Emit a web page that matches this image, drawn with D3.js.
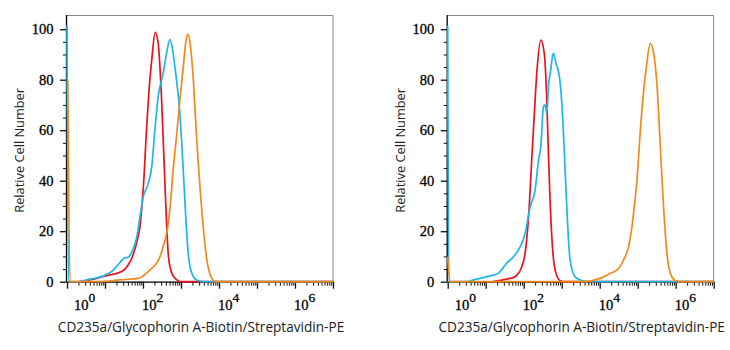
<!DOCTYPE html>
<html>
<head>
<meta charset="utf-8">
<script src="https://cdn.jsdelivr.net/npm/d3@7"></script>
<style>
  html, body { margin: 0; padding: 0; background: #fff; }
  svg { display: block; }
</style>
</head>
<body>
<div id="chart"></div>
<script>
// histogram traces, [log10 intensity, relative cell number]
const leftRed = [
  [0.34, 0], [0.78, 1.3], [1.13, 2.7], [1.44, 4], [1.61, 6.6], [1.74, 10.6], [1.85, 16.5],
  [1.92, 21.8], [1.97, 29.7], [2.01, 37.6], [2.10, 62], [2.18, 79.9], [2.23, 87.8],
  [2.32, 98.8], [2.40, 94.4], [2.49, 72], [2.58, 37.6], [2.67, 9.9], [2.76, 3.3],
  [2.89, 0.7], [3.0, 0], [7, 0]
];
const leftCyan = [
  [0, 101.5], [0.04, 0], [0.26, 0], [0.61, 1], [0.96, 2.3], [1.22, 4.6], [1.39, 7.5],
  [1.50, 9.3], [1.61, 9.7], [1.73, 12.6], [1.83, 17.2], [1.92, 25.7], [2.01, 33.7],
  [2.14, 39], [2.23, 45.5], [2.32, 61.4], [2.40, 73.3], [2.53, 82.5], [2.62, 90.5],
  [2.71, 96], [2.78, 91.8], [2.84, 85], [2.97, 66.7], [3.06, 44], [3.13, 24.4],
  [3.19, 11.2], [3.28, 3.5], [3.41, 0.7], [3.63, 0], [7, 0]
];
const leftOrange = [
  [0.02, 80], [0.08, 0], [0.87, 0], [1.39, 0.7], [1.88, 1.3], [2.10, 3.5], [2.18, 4.6],
  [2.32, 6.6], [2.45, 10], [2.53, 14], [2.62, 19], [2.71, 29], [2.80, 45.5], [2.89, 58.8],
  [2.97, 72], [3.06, 85], [3.13, 95.5], [3.18, 98], [3.24, 94.4], [3.33, 78.6],
  [3.41, 57.4], [3.54, 29.7], [3.68, 8.6], [3.81, 1.3], [3.92, 0], [7, 0]
];

const rightRed = [
  [1.19, 0], [1.55, 1], [1.77, 2], [1.95, 5.9], [2.06, 13.9], [2.15, 31], [2.21, 48.2],
  [2.27, 64], [2.35, 83.8], [2.45, 95.7], [2.54, 90.5], [2.61, 70.7], [2.65, 50.9],
  [2.70, 29.7], [2.77, 11.2], [2.85, 3.3], [2.96, 0.4], [3.09, 0], [7, 0]
];
const rightCyan = [
  [0, 101.5], [0.03, 0], [0.46, 0], [0.76, 1], [1.03, 2], [1.33, 3.3], [1.55, 7.3],
  [1.73, 9.9], [1.91, 13.9], [2.04, 19.2], [2.17, 29.7], [2.30, 36.3], [2.39, 48.2],
  [2.45, 53.5], [2.52, 69.3], [2.56, 70], [2.61, 66.7], [2.65, 77.2], [2.71, 83.8],
  [2.78, 90.5], [2.85, 86.5], [2.94, 81.2], [3.03, 64], [3.09, 44.2], [3.15, 24.4],
  [3.22, 8.6], [3.35, 2], [3.49, 0.7], [3.67, 0], [7, 0]
];
const rightOrange = [
  [0, 10], [0.06, 0], [3.57, 0], [4.01, 1.3], [4.28, 3.3], [4.50, 5.3], [4.63, 8.6],
  [4.76, 13.9], [4.85, 21.8], [4.91, 29.7], [4.98, 40], [5.07, 60], [5.15, 74.6],
  [5.24, 86.5], [5.33, 94.4], [5.42, 90.5], [5.51, 77.2], [5.59, 55], [5.68, 29.7],
  [5.77, 11.2], [5.86, 3.3], [5.99, 0.5], [6.12, 0], [7, 0]
];

const yMajor = [0, 20, 40, 60, 80, 100];
const xLabelPowers = [0, 2, 4, 6];
const xTitle = 'CD235a/Glycophorin A-Biotin/Streptavidin-PE';
const yTitle = 'Relative Cell Number';

const colors = { red: '#e8141c', cyan: '#1eb6e4', orange: '#f2891c' };
const serif = "'Liberation Serif', serif";
const sans = "'Open Sans', 'Noto Sans', sans-serif";

const svg = d3.select('#chart').append('svg')
  .attr('width', 730).attr('height', 350);

function drawPanel(left, red, cyan, orange) {
  const top = 15, W = 266, H = 266.7;
  const g = svg.append('g').attr('transform', `translate(${left},${top})`);

  const x = d3.scaleLog().domain([1, 1e7]).range([0, W]);
  const y = d3.scaleLinear().domain([0, 105.63]).range([H, 0]);

  // frame top / right
  g.append('path')
    .attr('d', `M0,0.5H${W}V${H}`)
    .attr('fill', 'none').attr('stroke', '#888').attr('stroke-width', 1);

  // minor ticks
  const xMinor = [];
  for (let p = 0; p < 7; p++) for (let m = 2; m <= 9; m++) xMinor.push(m * Math.pow(10, p));
  const xMaj = d3.range(0, 8).map(p => Math.pow(10, p));

  g.append('g').attr('transform', `translate(0,${H})`)
    .call(d3.axisBottom(x).tickValues(xMinor).tickSize(4).tickFormat(''))
    .call(a => a.select('.domain').remove())
    .selectAll('line').attr('stroke', '#111');
  g.append('g').attr('transform', `translate(0,${H})`)
    .call(d3.axisBottom(x).tickValues(xMaj).tickSize(7).tickSizeOuter(0).tickFormat(''))
    .call(a => a.select('.domain').attr('stroke', '#000').attr('stroke-width', 1.3))
    .selectAll('line').attr('stroke', '#111').attr('stroke-width', 1.3);

  const yMinor = d3.range(5, 105, 5).filter(v => v % 20 !== 0);
  g.append('g')
    .call(d3.axisLeft(y).tickValues(yMinor).tickSize(4).tickFormat(''))
    .call(a => a.select('.domain').remove())
    .selectAll('line').attr('stroke', '#111');
  g.append('g')
    .call(d3.axisLeft(y).tickValues(yMajor).tickSize(7).tickSizeOuter(0).tickPadding(6.5))
    .attr('font-family', null)
    .attr('font-size', null)
    .call(a => a.select('.domain').attr('d', `M-0.5,0V${H}`).attr('stroke', '#000').attr('stroke-width', 1.3))
    .call(a => a.selectAll('line').attr('stroke', '#111').attr('stroke-width', 1.3))
    .selectAll('text')
    .attr('font-family', serif)
    .attr('font-size', 14.5)
    .attr('fill', '#000')
    .attr('stroke', '#000')
    .attr('stroke-width', 0.3);

  // x tick labels as powers of ten
  xLabelPowers.forEach(p => {
    const t = g.append('text')
      .attr('x', x(Math.pow(10, p)) + (p === 0 ? 7 : -1))
      .attr('y', H + 28.5)
      .attr('font-family', serif)
      .attr('font-size', 14.5)
      .attr('fill', '#000')
      .attr('stroke', '#000')
      .attr('stroke-width', 0.3);
    t.append('tspan').text('10');
    t.append('tspan').attr('dy', -8.5).attr('font-size', 13.5).text(p);
  });

  // traces
  const line = d3.line()
    .x(d => x(Math.pow(10, d[0])))
    .y(d => y(d[1]))
    .curve(d3.curveMonotoneX);

  [[red, colors.red], [cyan, colors.cyan], [orange, colors.orange]].forEach(([data, c]) => {
    g.append('path')
      .datum(data)
      .attr('d', line)
      .attr('fill', 'none')
      .attr('stroke', c)
      .attr('stroke-width', 1.7)
      .attr('stroke-linejoin', 'round');
  });

  // axis titles
  g.append('text')
    .attr('x', W / 2 + 1).attr('y', 317)
    .attr('text-anchor', 'middle')
    .attr('font-family', sans)
    .attr('font-size', 13.6)
    .attr('fill', '#222')
    .text(xTitle);
  g.append('text')
    .attr('transform', `translate(${-43},${H / 2 + 2}) rotate(-90)`)
    .attr('text-anchor', 'middle')
    .attr('font-family', sans)
    .attr('font-size', 12.8)
    .attr('fill', '#222')
    .text(yTitle);
}

drawPanel(67, leftRed, leftCyan, leftOrange);
drawPanel(447.7, rightRed, rightCyan, rightOrange);
</script>
</body>
</html>
